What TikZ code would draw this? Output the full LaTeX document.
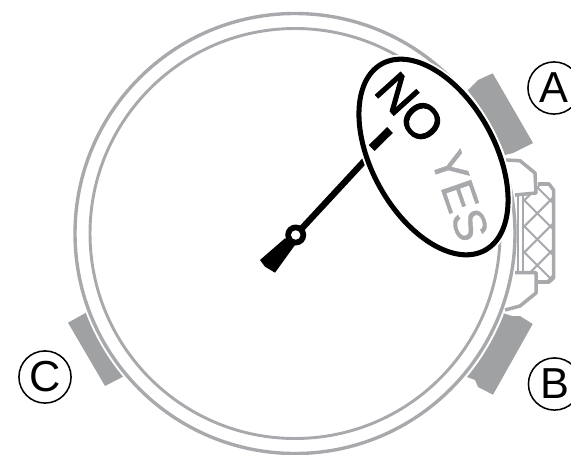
\documentclass[tikz,border=0pt]{standalone}
\usepackage{fontspec}
\setmainfont{Liberation Sans}
\newfontfamily\heavyfont[FakeBold=2.2]{Liberation Sans}
\newfontfamily\mediumfont[FakeBold=0.9]{Liberation Sans}
\definecolor{watchgray}{HTML}{A7A9AC}
\definecolor{keygray}{HTML}{A0A1A3}
\tikzset{
    ringline/.style={draw=watchgray,line width=2.9pt},
    keyfill/.style={fill=keygray,draw=none},
    guardline/.style={draw=watchgray,fill=white,line width=3pt,line join=round},
    letterbadge/.style={circle,draw=black,line width=1.3pt,minimum size=44.5pt,inner sep=0pt,font=\fontsize{37}{37}\selectfont},
}

\begin{document}
\begin{tikzpicture}[x=0.03cm,y=-0.03cm]
    \useasboundingbox (0,0) rectangle (571,454);
    \clip (0,0) rectangle (571,454);
    % case
    \coordinate (centre) at (295,233.5);
    \draw[ringline] (centre) circle [radius=220];
    \draw[ringline,line width=2.5pt] (centre) circle [radius=205];
    % push buttons
    \fill[keyfill] (468,90) -- (478,80) -- (492.7,73.3) -- (533,143) -- (513,153) -- (505,155)
        arc [start angle=-20.5,end angle=-39.7,radius=224] -- cycle;
    \fill[keyfill] (503,313) -- (512,316) -- (520,316) -- (532.7,324) -- (493,394.7) -- (478,387) -- (475,380) -- (467,377)
        arc [start angle=39.8,end angle=20.9,radius=223] -- cycle;
    \fill[keyfill] (86,312.7) -- (68,322.7) -- (105,386) -- (123,376.7)
        arc [start angle=140.2,end angle=159.3,radius=223.5] -- cycle;
    % crown
    \begin{scope}
        \clip (522,186) rectangle (552,281);
        \foreach \k in {-3,...,4} {
            \draw[watchgray,line width=1.7pt] (495,213.3+26*\k-42.3) -- (580,213.3+26*\k+42.7);
            \draw[watchgray,line width=1.7pt] (495,213.3+26*\k+42.3) -- (580,213.3+26*\k-42.7);
        }
    \end{scope}
    \draw[watchgray,line width=2.4pt] (518,195) -- (518,273);
    \draw[watchgray,line width=2.4pt] (523,195) -- (523,273);
    \draw[watchgray,line width=3pt,line join=round] (538,184) -- (549,184) -- (553.5,190) -- (553.5,278) -- (549,282) -- (538,282);
    \draw[guardline] (506,160) -- (520,160.7) -- (535,173) -- (536,193) -- (515,195);
    \draw[guardline] (515,272.7) -- (536,272.7) -- (536,293) -- (520,306) -- (505,310);
    % hand
    \fill[black] (295.7,235) circle [radius=10.5];
    \fill[black] (285,238.3) -- (260,260) -- (265,266.7) -- (275,272.7) -- (295,245) -- cycle;
    \draw[black,line width=5.4pt] (295.7,235) -- (368,157);
    \fill[white] (295.7,235) circle [radius=4.7];
    % window
    \draw[white,line width=7.5pt,rotate around={-61:(433.5,157)}] (433.5,157) ellipse [x radius=106.5,y radius=61.5];
    \draw[black,fill=white,line width=4.3pt,rotate around={-61:(433.5,157)}] (433.5,157) ellipse [x radius=106.5,y radius=61.5];
    \draw[black,line width=7pt] (371.7,148) -- (390,130);
    \node (no) at (410,108) [rotate=-48,font=\heavyfont\fontsize{42}{42}\selectfont] {NO};
    \node (yes) at (460,196) [rotate=-71,text=watchgray,font=\mediumfont\fontsize{39}{39}\selectfont] {YES};
    % labels
    \node[letterbadge] (keyA) at (554,88) {A};
    \node[letterbadge] (keyB) at (554.5,384) {B};
    \node[letterbadge] (keyC) at (45,377) {C};
\end{tikzpicture}
\end{document}
